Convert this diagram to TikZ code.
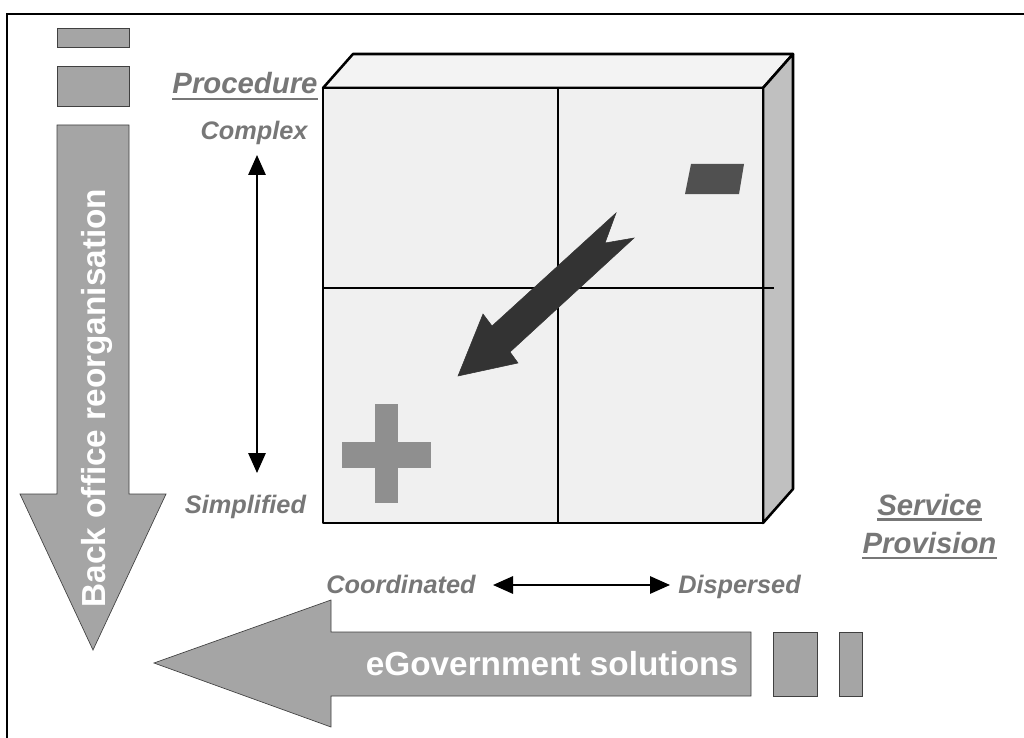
\documentclass[tikz,border=0pt]{standalone}
\usepackage{fontspec}
\setmainfont{Liberation Sans}
\usetikzlibrary{arrows.meta,calc}

\definecolor{blockgray}{HTML}{A5A5A5}
\definecolor{labelgray}{HTML}{777777}
\definecolor{frontface}{HTML}{F0F0F0}
\definecolor{topface}{HTML}{F3F3F3}
\definecolor{sideface}{HTML}{C0C0C0}
\definecolor{darkarrow}{HTML}{333333}
\definecolor{minusgray}{HTML}{505050}
\definecolor{plusgray}{HTML}{8F8F8F}

\tikzset{
  block/.style={draw=black!75, line width=0.5pt, fill=blockgray},
  cubeface/.style={draw=black, line width=1.9pt, line join=round},
  axislabel/.style={text=labelgray, inner sep=0pt, anchor=base, font=\fontsize{19}{22}\selectfont\bfseries\itshape},
  titlelabel/.style={text=labelgray, inner sep=0pt, anchor=base, font=\fontsize{22}{26}\selectfont\bfseries\itshape},
  ulline/.style={draw=labelgray, line width=2.2pt},
  whitelabel/.style={text=white, inner sep=0pt, anchor=base, font=\fontsize{25}{30}\selectfont\bfseries},
  axisarrow/.style={line width=1.5pt, {Triangle[length=15pt,width=13pt]}-{Triangle[length=15pt,width=13pt]}},
}

\begin{document}
\begin{tikzpicture}[x=0.75pt,y=0.75pt,yscale=-1,xscale=1]
\useasboundingbox (0,0) rectangle (1024,738);

%Frame
\draw [line width=1.5pt] (7,738) -- (7,14) -- (1024,14) ;

%Shape: Cube top
\draw [cubeface, fill=topface] (323,88) -- (353,54) -- (793,54) -- (763,88) -- cycle ;
%Shape: Cube side
\draw [cubeface, fill=sideface] (763,88) -- (793,54) -- (793,489) -- (763,523) -- cycle ;
%Shape: Cube front
\draw [cubeface, fill=frontface] (323,88) rectangle (763,523) ;
%Straight Lines: quadrants
\draw [line width=1.6pt] (558,88) -- (558,523) ;
\draw [line width=1.6pt] (323,288) -- (774,288) ;

%Shape: Minus
\fill [minusgray] (691,164) -- (744,164) -- (739,194) -- (685,194) -- cycle ;
%Shape: Plus
\fill [plusgray] (342,442) rectangle (431,468) ;
\fill [plusgray] (375,404) rectangle (398,503) ;
%Shape: Dark arrow
\draw [draw=black!80, line width=0.4pt, fill=darkarrow] (616,213) -- (605,243) -- (634,238) -- (510,352) -- (518,363) -- (458,376) -- (483,314) -- (492,326) -- cycle ;

%Shape: Back office arrow
\draw [block] (57,28) rectangle (129,47) ;
\draw [block] (57,66) rectangle (129,106) ;
\draw [block] (57,125) -- (129,125) -- (129,494) -- (166,494) -- (93,650) -- (20,494) -- (57,494) -- cycle ;
%Shape: eGovernment arrow
\draw [block] (751,632) -- (751,696) -- (331,696) -- (331,727) -- (154,663) -- (331,600) -- (331,632) -- cycle ;
\draw [block] (773,632) rectangle (817,696) ;
\draw [block] (839,632) rectangle (862,696) ;

% Text Node
\node [whitelabel, rotate=90] (backoff) at (105,398) {Back office reorganisation};
% Text Node
\node [whitelabel] (egov) at (552,675) {eGovernment solutions};

% Text Node
\node [titlelabel] (proc) at (245,94) {Procedure};
\draw [ulline] ($(proc.base west)+(0,5)$) -- ($(proc.base east)+(0,5)$) ;
% Text Node
\node [titlelabel] (serv) at (929.5,515) {Service};
\draw [ulline] ($(serv.base west)+(0,4.5)$) -- ($(serv.base east)+(0,4.5)$) ;
% Text Node
\node [titlelabel] (prov) at (929.5,553) {Provision};
\draw [ulline] ($(prov.base west)+(0,5)$) -- ($(prov.base east)+(0,5)$) ;

% Text Node
\node [axislabel] (cplx) at (254,140) {Complex};
% Text Node
\node [axislabel] (simp) at (245.5,513) {Simplified};
% Text Node
\node [axislabel] (coord) at (401,593) {Coordinated};
% Text Node
\node [axislabel] (disp) at (739.5,593) {Dispersed};

%Straight Lines: axes
\coordinate (cplxend) at (257,155) ;
\coordinate (simpend) at (257,473) ;
\coordinate (coordend) at (493,585) ;
\coordinate (dispend) at (670,585) ;
\draw [axisarrow] (cplxend) -- (simpend) ;
\draw [axisarrow] (coordend) -- (dispend) ;

\end{tikzpicture}
\end{document}
